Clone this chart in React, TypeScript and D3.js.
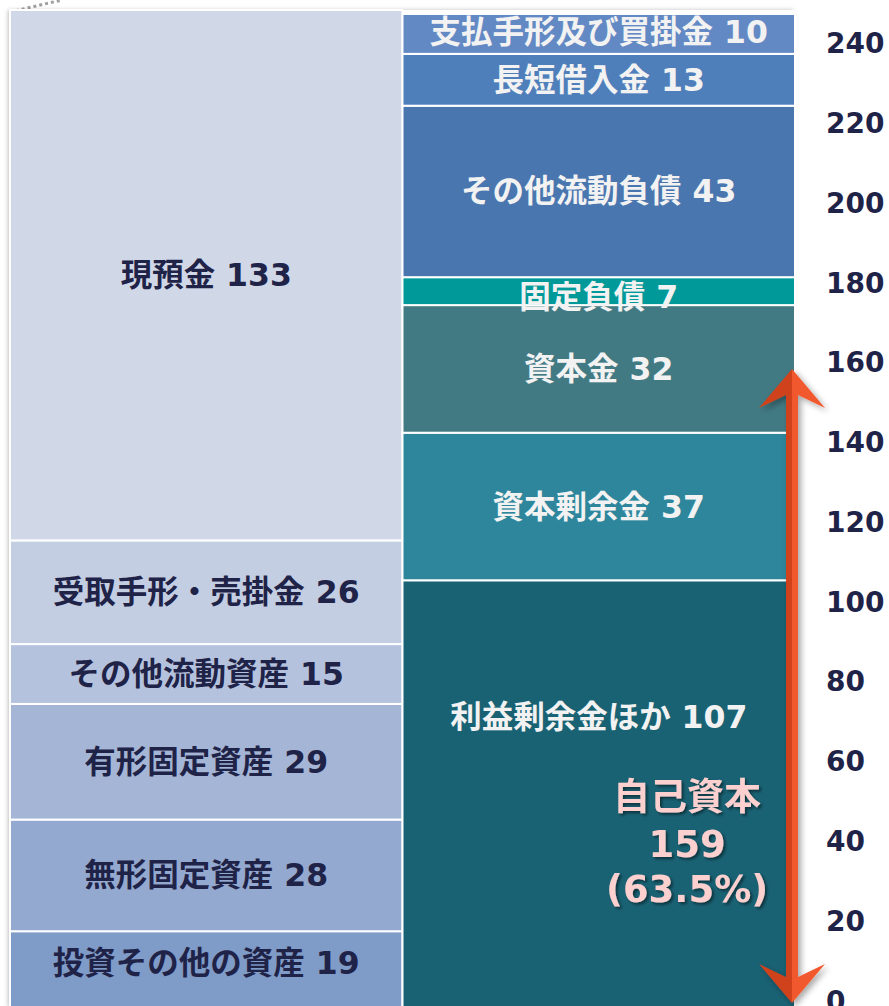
import React from "react";
import * as d3 from "d3";

// balance sheet, left = assets, right = liabilities + equity (bottom to top)
const assetNames = ["投資その他の資産", "無形固定資産", "有形固定資産", "その他流動資産", "受取手形・売掛金", "現預金"];
const assetValues = [19, 28, 29, 15, 26, 133];
const assetColors = ["#7f9bc8", "#94a9d0", "#a4b5d6", "#b4c2dd", "#c3cee3", "#d0d8e8"];

const liabNames = ["利益剰余金ほか", "資本剰余金", "資本金", "固定負債", "その他流動負債", "長短借入金", "支払手形及び買掛金"];
const liabValues = [107, 37, 32, 7, 43, 13, 10];
const liabColors = ["#196274", "#2e869c", "#427a84", "#009999", "#4a76af", "#4f7fbb", "#6389c4"];

const yTicks = [0, 20, 40, 60, 80, 100, 120, 140, 160, 180, 200, 220, 240];

const equityLabel = "自己資本";
const equityValue = 159;
const equityShare = "(63.5%)";

const W = 889;
const H = 1006;
const FONT = "'DejaVu Sans', 'Noto Sans CJK JP', sans-serif";

function stackUp(names: string[], values: number[], colors: string[]) {
  let acc = 0;
  return names.map((n, i) => {
    const start = acc;
    acc += values[i];
    return { name: n, value: values[i], start, end: acc, color: colors[i] };
  });
}

export default function App() {
  const y = d3.scaleLinear().domain([0, 250]).range([1007, 10]);
  const x = d3.scaleBand().domain(["assets", "liab"]).range([10, 795]).paddingInner(0);
  const bw = x.bandwidth();

  const assets = stackUp(assetNames, assetValues, assetColors);
  const liabs = stackUp(liabNames, liabValues, liabColors);

  const xL = x("assets")!;
  const xR = x("liab")!;

  // arrow for equity
  const cx = xR + bw - 3;
  const top = y(equityValue) - 4;
  const bot = y(0) - 4;
  const hw = 33, hh = 39, sw = 6, nh = 26;
  const leftHalf = `M${cx},${top} L${cx - hw},${top + hh} L${cx - sw},${top + nh} L${cx - sw},${bot - nh} L${cx - hw},${bot - hh} L${cx},${bot} Z`;
  const rightHalf = `M${cx},${top} L${cx + hw},${top + hh} L${cx + sw},${top + nh} L${cx + sw},${bot - nh} L${cx + hw},${bot - hh} L${cx},${bot} Z`;

  const annX = xR + bw * 0.725;
  const annY = y(52);

  return (
    <svg width={W} height={H} style={{ position: "absolute", left: 0, top: 0 }} fontFamily={FONT}>
      <defs>
        <filter id="colShadow" x="-10%" y="-10%" width="120%" height="120%">
          <feDropShadow dx="-2" dy="0" stdDeviation="2" floodColor="#000" floodOpacity="0.25" />
        </filter>
        <filter id="arrShadow" x="-50%" y="-10%" width="200%" height="120%">
          <feDropShadow dx="3" dy="3" stdDeviation="3" floodColor="#000" floodOpacity="0.35" />
        </filter>
        <filter id="txtShadow" x="-10%" y="-30%" width="120%" height="160%">
          <feDropShadow dx="2" dy="2" stdDeviation="1.5" floodColor="#000" floodOpacity="0.5" />
        </filter>
      </defs>

      {/* connector line at top-left */}
      <path d="M10,12 L62,0" stroke="#a0a0a0" strokeWidth={3} strokeDasharray="3 3" fill="none" />

      <rect x={xL} y={y(250)} width={bw * 2} height={y(0) - y(250)} fill="#fff" filter="url(#colShadow)" />

      {assets.map((d, i) => {
        let ty = (y(d.start) + y(d.end)) / 2;
        // bottom block is cut by the page edge, so its label sits a bit higher
        if (i === 0) ty -= 6;
        return (
          <g key={d.name}>
            <rect x={xL} y={y(d.end)} width={bw} height={y(d.start) - y(d.end)} fill={d.color} stroke="#fff" strokeWidth={2} />
            <text x={xL + bw / 2} y={ty} textAnchor="middle" dominantBaseline="central"
              fontSize={31.5} fontWeight="bold" fill="#1f2348">
              {d.name} {d.value}
            </text>
          </g>
        );
      })}

      {liabs.map((d, i) => {
        let ty = (y(d.start) + y(d.end)) / 2;
        if (i === 0) ty = y(d.start + d.value * 0.68);
        if (d.value < 10) ty += 6;
        if (i === liabs.length - 1) ty -= 2;
        return (
          <g key={d.name}>
            <rect x={xR} y={y(d.end)} width={bw} height={y(d.start) - y(d.end)} fill={d.color} stroke="#fff" strokeWidth={2} />
            <text x={xR + bw / 2} y={ty} textAnchor="middle" dominantBaseline="central"
              fontSize={31.5} fontWeight="bold" fill="#f2f2f2">
              {d.name} {d.value}
            </text>
          </g>
        );
      })}

      {/* equity arrow */}
      <g filter="url(#arrShadow)">
        <path d={leftHalf} fill="#cf431d" />
        <path d={rightHalf} fill="#f2592e" />
      </g>

      <g filter="url(#txtShadow)" fill="#fbd0cf" fontSize={37} fontWeight="bold" textAnchor="middle">
        <text x={annX} y={annY - 2} dominantBaseline="central">{equityLabel}</text>
        <text x={annX} y={annY + 45} dominantBaseline="central">{equityValue}</text>
        <text x={annX} y={annY + 90} dominantBaseline="central">{equityShare}</text>
      </g>

      {/* y axis labels */}
      {yTicks.map((t) => (
        <text key={t} x={826} y={y(t) - 6} dominantBaseline="central" fontSize={28} fontWeight="bold" fill="#1f2348">
          {t}
        </text>
      ))}
    </svg>
  );
}
